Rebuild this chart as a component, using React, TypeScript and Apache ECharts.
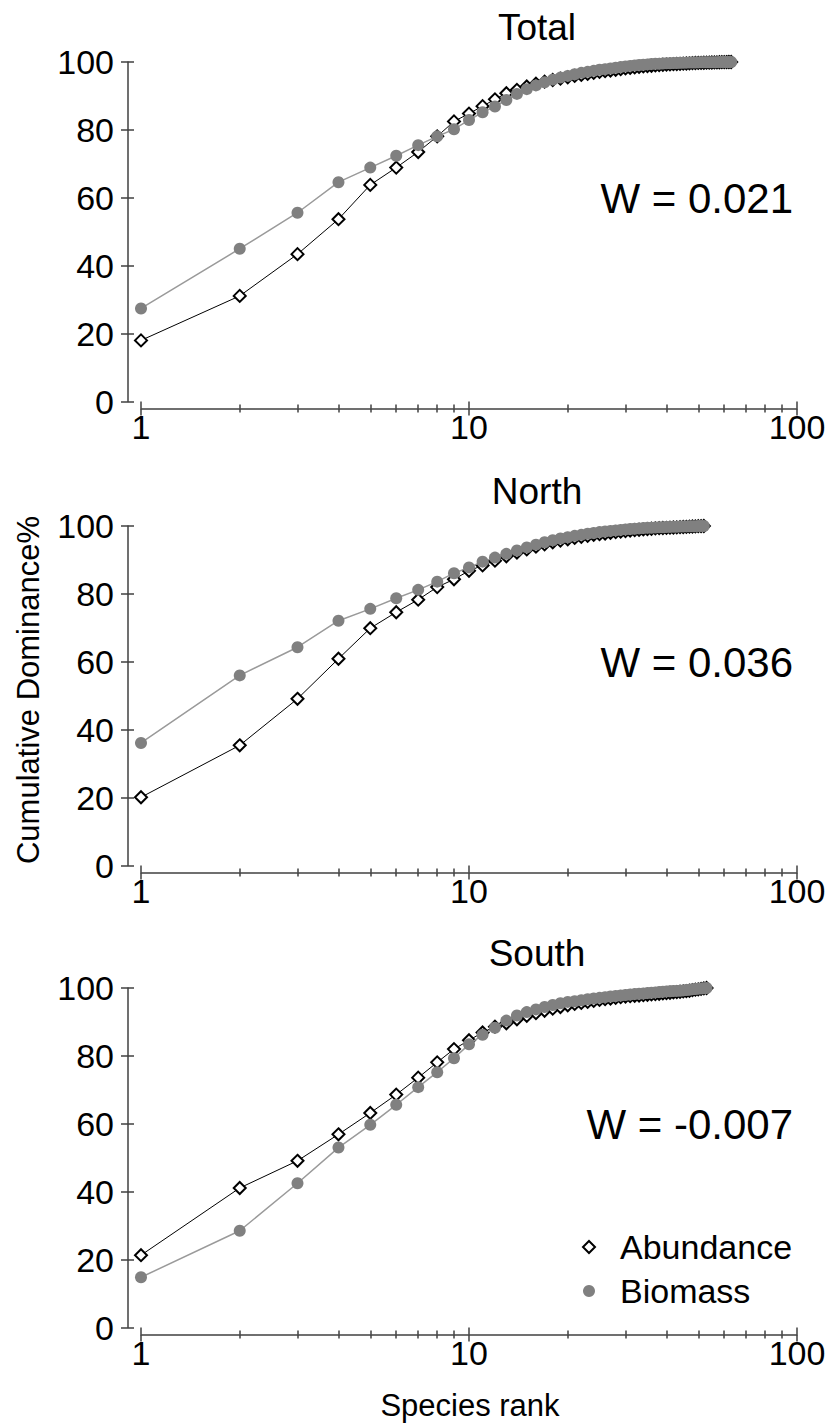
import React, { useEffect, useRef } from "react";
import * as echarts from "echarts";

const panelTitles = ["Total", "North", "South"];
const wLabels = ["W = 0.021", "W = 0.036", "W = -0.007"];
const seriesNames = ["Abundance", "Biomass"];
const yAxisName = "Cumulative Dominance%";
const xAxisName = "Species rank";
const minorTickValues = [2, 3, 4, 5, 6, 7, 8, 9, 20, 30, 40, 50, 60, 70, 80, 90];

const totalAbundance = [
  18.0, 31.1, 43.4, 53.7, 63.8, 68.9, 73.5, 78.1, 82.5, 84.8,
  87.0, 89.0, 90.8, 91.8, 92.8, 93.6, 94.2, 94.7, 95.1, 95.5,
  95.9, 96.2, 96.5, 96.8, 97.1, 97.3, 97.5, 97.7, 97.9, 98.1,
  98.25, 98.4, 98.55, 98.7, 98.8, 98.9, 99.0, 99.1, 99.2, 99.25,
  99.3, 99.35, 99.4, 99.45, 99.5, 99.55, 99.6, 99.65, 99.7, 99.72,
  99.75, 99.78, 99.8, 99.83, 99.86, 99.88, 99.9, 99.92, 99.94, 99.96,
  99.98, 99.99, 100,
];
const totalBiomass = [
  27.4, 45.0, 55.6, 64.6, 68.9, 72.4, 75.5, 78.1, 80.2, 82.9,
  85.2, 86.9, 88.8, 90.6, 92.0, 93.1, 94.0, 94.8, 95.4, 95.9,
  96.4, 96.8, 97.1, 97.4, 97.7, 97.9, 98.1, 98.3, 98.5, 98.7,
  98.85, 99.0, 99.1, 99.2, 99.3, 99.4, 99.45, 99.5, 99.55, 99.6,
  99.64, 99.68, 99.72, 99.75, 99.78, 99.8, 99.82, 99.84, 99.86, 99.88,
  99.9, 99.91, 99.92, 99.93, 99.94, 99.95, 99.96, 99.97, 99.98, 99.985,
  99.99, 99.995, 100,
];
const northAbundance = [
  20.1, 35.4, 49.1, 60.9, 69.9, 74.6, 78.3, 82.0, 84.3, 86.8,
  88.4, 89.8, 91.1, 92.2, 93.1, 93.9, 94.6, 95.2, 95.7, 96.1,
  96.5, 96.8, 97.1, 97.4, 97.6, 97.8, 98.0, 98.2, 98.35, 98.5,
  98.65, 98.8, 98.9, 99.0, 99.1, 99.2, 99.3, 99.35, 99.4, 99.45,
  99.5, 99.55, 99.6, 99.65, 99.7, 99.75, 99.8, 99.85, 99.9, 99.94,
  99.97, 100,
];
const northBiomass = [
  36.1, 56.0, 64.3, 72.1, 75.6, 78.7, 81.2, 83.6, 86.1, 87.8,
  89.5, 90.7, 91.8, 92.8, 93.7, 94.5, 95.2, 95.8, 96.3, 96.7,
  97.1, 97.4, 97.7, 97.95, 98.2, 98.4, 98.55, 98.7, 98.85, 99.0,
  99.1, 99.2, 99.3, 99.38, 99.45, 99.5, 99.55, 99.6, 99.65, 99.7,
  99.73, 99.76, 99.79, 99.82, 99.85, 99.88, 99.9, 99.93, 99.95, 99.97,
  99.99, 100,
];
const southAbundance = [
  21.3, 41.1, 49.1, 56.9, 63.2, 68.6, 73.6, 78.1, 82.0, 84.6,
  86.9, 88.6, 89.6, 90.8, 91.8, 92.6, 93.3, 93.9, 94.4, 94.9,
  95.3, 95.6, 95.9, 96.2, 96.5, 96.7, 96.9, 97.1, 97.3, 97.5,
  97.6, 97.7, 97.8, 97.9, 98.0, 98.1, 98.2, 98.3, 98.4, 98.5,
  98.6, 98.7, 98.8, 98.9, 99.0, 99.1, 99.2, 99.35, 99.5, 99.6,
  99.75, 99.9, 100,
];
const southBiomass = [
  14.8, 28.5, 42.5, 53.0, 59.7, 65.6, 70.8, 75.2, 79.3, 83.4,
  86.2, 88.3, 90.4, 91.9, 92.9, 93.7, 94.4, 95.0, 95.5, 95.9,
  96.1, 96.4, 96.7, 96.9, 97.1, 97.3, 97.5, 97.65, 97.8, 97.95,
  98.1, 98.2, 98.3, 98.4, 98.5, 98.6, 98.7, 98.8, 98.9, 99.0,
  99.05, 99.1, 99.15, 99.2, 99.3, 99.4, 99.5, 99.6, 99.7, 99.8,
  99.87, 99.94, 100,
];

const abundanceSets = [totalAbundance, northAbundance, southAbundance];
const biomassSets = [totalBiomass, northBiomass, southBiomass];

const FONT = "'Liberation Sans', Arial, Helvetica, sans-serif";
const AXIS_COLOR = "#404040";

export default function App() {
  const ref = useRef<HTMLDivElement>(null);

  useEffect(() => {
    if (!ref.current) return;
    const chart = echarts.init(ref.current, undefined, { renderer: "svg" });

    const gridLeft = 141;
    const gridWidth = 656;
    const gridHeight = 339.5;
    const gridTops = [62, 526, 988];

    const grids: any[] = [];
    const xAxes: any[] = [];
    const yAxes: any[] = [];
    const series: any[] = [];
    const graphics: any[] = [];

    const lineStyle = { color: AXIS_COLOR, width: 1.5 };
    const minorLog = minorTickValues.map((v) => Math.log10(v));

    gridTops.forEach((top, i) => {
      grids.push({ left: gridLeft, top, width: gridWidth, height: gridHeight, containLabel: false });

      xAxes.push({
        type: "log", logBase: 10, gridIndex: i, min: 1, max: 100, position: "bottom", offset: 7,
        axisLine: { show: true, onZero: false, lineStyle },
        axisTick: { show: true, inside: false, length: 7, lineStyle },
        axisLabel: { show: true, margin: 1, fontSize: 34, fontFamily: FONT, color: "#000" },
        splitLine: { show: false },
      });
      xAxes.push({
        type: "log", logBase: 10, gridIndex: i, min: 1, max: 100, position: "bottom", offset: 7,
        axisLine: { show: false, onZero: false },
        axisTick: { show: true, inside: true, length: 7, lineStyle },
        axisLabel: { show: false },
        splitLine: { show: false },
      });
      xAxes.push({
        type: "value", gridIndex: i, min: 0, max: 2, position: "bottom", offset: 7,
        axisLine: { show: false, onZero: false },
        axisTick: { show: true, inside: false, length: 4, lineStyle, customValues: minorLog },
        axisLabel: { show: false },
        splitLine: { show: false },
      });
      xAxes.push({
        type: "value", gridIndex: i, min: 0, max: 2, position: "bottom", offset: 7,
        axisLine: { show: false, onZero: false },
        axisTick: { show: true, inside: true, length: 4, lineStyle, customValues: minorLog },
        axisLabel: { show: false },
        splitLine: { show: false },
      });

      yAxes.push({
        type: "value", gridIndex: i, min: 0, max: 100, interval: 20, position: "left", offset: 13,
        axisLine: { show: true, onZero: false, lineStyle },
        axisTick: { show: true, inside: false, length: 7, lineStyle },
        axisLabel: { show: true, margin: 14, fontSize: 34, fontFamily: FONT, color: "#000" },
        splitLine: { show: false },
      });
      yAxes.push({
        type: "value", gridIndex: i, min: 0, max: 100, interval: 20, position: "left", offset: 13,
        axisLine: { show: false, onZero: false },
        axisTick: { show: true, inside: true, length: 6, lineStyle },
        axisLabel: { show: false },
        splitLine: { show: false },
      });

      series.push({
        type: "line",
        name: seriesNames[0],
        xAxisIndex: 4 * i,
        yAxisIndex: 2 * i,
        data: abundanceSets[i].map((v, k) => [k + 1, v]),
        symbol: "diamond",
        symbolSize: 12,
        showSymbol: true,
        showAllSymbol: true,
        itemStyle: { color: "#ffffff", borderColor: "#000000", borderWidth: 2 },
        lineStyle: { color: "#000000", width: 1 },
        z: 3,
      });
      series.push({
        type: "line",
        name: seriesNames[1],
        xAxisIndex: 4 * i,
        yAxisIndex: 2 * i,
        data: biomassSets[i].map((v, k) => [k + 1, v]),
        symbol: "circle",
        symbolSize: 12,
        showSymbol: true,
        showAllSymbol: true,
        itemStyle: { color: "#808080" },
        lineStyle: { color: "#9a9a9a", width: 1.5 },
        z: 4,
      });

      graphics.push({
        type: "text",
        x: 537,
        y: top - 35,
        style: {
          text: panelTitles[i], fontSize: 37, fontFamily: FONT, fill: "#000",
          textAlign: "center", textVerticalAlign: "middle", align: "center", verticalAlign: "middle",
        },
      });
      graphics.push({
        type: "text",
        x: 793,
        y: top + 136,
        style: {
          text: wLabels[i], fontSize: 42, fontFamily: FONT, fill: "#000",
          textAlign: "right", textVerticalAlign: "middle", align: "right", verticalAlign: "middle",
        },
      });
    });

    graphics.push({
      type: "text",
      x: 28,
      y: 690,
      rotation: Math.PI / 2,
      style: {
        text: yAxisName, fontSize: 31, fontFamily: FONT, fill: "#000",
        textAlign: "center", textVerticalAlign: "middle", align: "center", verticalAlign: "middle",
      },
    });
    graphics.push({
      type: "text",
      x: 470,
      y: 1405,
      style: {
        text: xAxisName, fontSize: 31, fontFamily: FONT, fill: "#000",
        textAlign: "center", textVerticalAlign: "middle", align: "center", verticalAlign: "middle",
      },
    });

    chart.setOption({
      animation: false,
      backgroundColor: "#ffffff",
      grid: grids,
      xAxis: xAxes,
      yAxis: yAxes,
      series,
      graphic: graphics,
      legend: {
        show: true,
        orient: "vertical",
        left: 577,
        top: 1225,
        itemWidth: 12,
        itemHeight: 12,
        itemGap: 10,
        selectedMode: false,
        textStyle: { fontSize: 34, fontFamily: FONT, color: "#000", padding: [0, 0, 0, 20] },
        data: [
          { name: seriesNames[0], icon: "diamond", itemStyle: { color: "#ffffff", borderColor: "#000000", borderWidth: 2 } },
          { name: seriesNames[1], icon: "circle", itemStyle: { color: "#808080", borderWidth: 0 } },
        ],
      },
    });

    return () => chart.dispose();
  }, []);

  return (
    <div
      ref={ref}
      style={{ position: "absolute", left: 0, top: 0, width: 830, height: 1425, background: "#fff" }}
    />
  );
}
